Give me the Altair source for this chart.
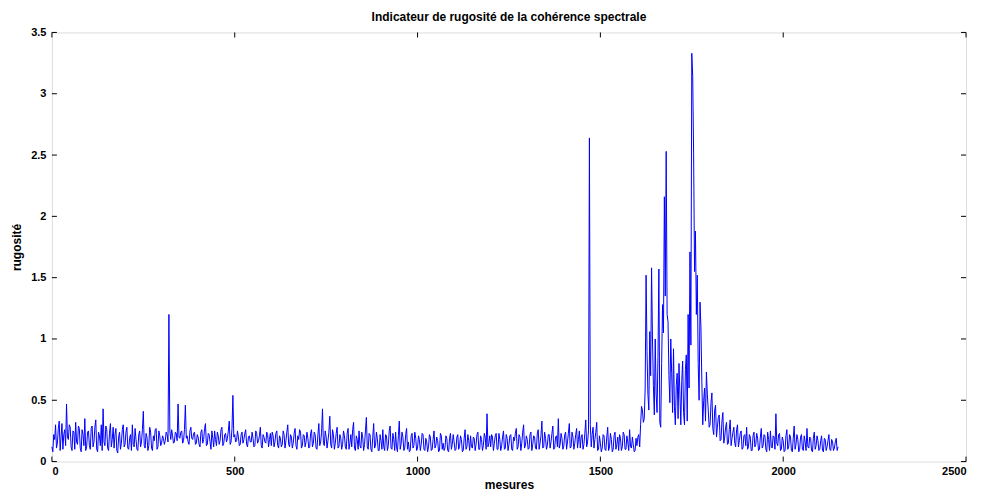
import altair as alt
import pandas as pd

# rugosity values read at x = 0, 5, ..., 2150 (main) and x = 2.5, 7.5, ... (mid)
seg_0000 = [0.12, 0.22, 0.30, 0.15, 0.33, 0.20, 0.10, 0.26, 0.47, 0.18, 0.28, 0.09, 0.24, 0.32, 0.14, 0.27, 0.08, 0.22, 0.35, 0.12]
seg_0100 = [0.25, 0.10, 0.29, 0.16, 0.34, 0.08, 0.21, 0.30, 0.43, 0.13, 0.26, 0.09, 0.31, 0.18, 0.11, 0.27, 0.07, 0.24, 0.15, 0.30]
seg_0200 = [0.14, 0.28, 0.10, 0.22, 0.30, 0.12, 0.18, 0.09, 0.25, 0.16, 0.41, 0.11, 0.20, 0.13, 0.24, 0.09, 0.17, 0.27, 0.12, 0.21]
seg_0300 = [0.15, 0.19, 0.17, 0.22, 1.20, 0.18, 0.21, 0.16, 0.23, 0.47, 0.19, 0.25, 0.17, 0.46, 0.21, 0.14, 0.28, 0.18, 0.24, 0.15]
seg_0400 = [0.20, 0.12, 0.26, 0.18, 0.31, 0.14, 0.22, 0.10, 0.19, 0.25, 0.13, 0.21, 0.17, 0.28, 0.15, 0.23, 0.19, 0.33, 0.16, 0.54]
seg_0500 = [0.22, 0.17, 0.20, 0.14, 0.24, 0.18, 0.26, 0.12, 0.21, 0.16, 0.19, 0.13, 0.23, 0.17, 0.28, 0.11, 0.20, 0.15, 0.22, 0.18]
seg_0600 = [0.13, 0.21, 0.16, 0.25, 0.11, 0.19, 0.14, 0.22, 0.17, 0.30, 0.12, 0.20, 0.15, 0.27, 0.10, 0.18, 0.24, 0.13, 0.21, 0.16]
seg_0700 = [0.19, 0.12, 0.26, 0.15, 0.22, 0.10, 0.31, 0.16, 0.43, 0.13, 0.20, 0.17, 0.37, 0.11, 0.22, 0.15, 0.28, 0.12, 0.19, 0.14]
seg_0800 = [0.21, 0.10, 0.27, 0.15, 0.12, 0.32, 0.09, 0.18, 0.25, 0.11, 0.20, 0.14, 0.36, 0.10, 0.22, 0.08, 0.31, 0.13, 0.19, 0.09]
seg_0900 = [0.17, 0.26, 0.09, 0.21, 0.13, 0.29, 0.10, 0.18, 0.24, 0.08, 0.33, 0.14, 0.20, 0.11, 0.27, 0.16, 0.09, 0.23, 0.13, 0.19]
seg_1000 = [0.11, 0.18, 0.14, 0.22, 0.09, 0.16, 0.12, 0.20, 0.10, 0.25, 0.13, 0.17, 0.09, 0.21, 0.15, 0.11, 0.19, 0.08, 0.23, 0.14]
seg_1100 = [0.16, 0.10, 0.22, 0.13, 0.18, 0.09, 0.26, 0.12, 0.17, 0.21, 0.11, 0.19, 0.14, 0.24, 0.10, 0.18, 0.13, 0.20, 0.39, 0.15]
seg_1200 = [0.12, 0.20, 0.15, 0.23, 0.10, 0.18, 0.13, 0.25, 0.11, 0.19, 0.14, 0.22, 0.09, 0.17, 0.27, 0.12, 0.20, 0.15, 0.30, 0.13]
seg_1300 = [0.18, 0.11, 0.24, 0.14, 0.20, 0.10, 0.26, 0.15, 0.33, 0.12, 0.19, 0.13, 0.22, 0.16, 0.29, 0.11, 0.21, 0.35, 0.14, 0.19]
seg_1400 = [0.13, 0.24, 0.16, 0.31, 0.12, 0.20, 0.15, 0.27, 0.18, 0.11, 0.22, 0.14, 0.34, 0.16, 2.64, 0.12, 0.28, 0.18, 0.32, 0.10]
seg_1500 = [0.15, 0.11, 0.21, 0.09, 0.28, 0.12, 0.18, 0.10, 0.24, 0.14, 0.09, 0.19, 0.12, 0.22, 0.10, 0.16, 0.26, 0.11, 0.14, 0.09]
seg_1600 = [0.13, 0.22, 0.30, 0.42, 0.35, 1.52, 0.55, 1.06, 1.58, 0.62, 1.00, 0.40, 1.57, 0.28, 1.28, 2.16, 2.53, 1.14, 0.48, 0.72]
seg_1700 = [0.92, 0.30, 0.72, 0.80, 0.30, 0.82, 0.30, 0.87, 1.20, 1.71, 3.33, 2.51, 1.88, 1.52, 0.50, 1.10, 0.30, 0.60, 0.73, 0.42]
seg_1800 = [0.30, 0.56, 0.22, 0.46, 0.28, 0.38, 0.18, 0.40, 0.20, 0.32, 0.15, 0.34, 0.19, 0.28, 0.12, 0.30, 0.17, 0.25, 0.11, 0.22]
seg_1900 = [0.28, 0.12, 0.20, 0.09, 0.24, 0.14, 0.19, 0.10, 0.27, 0.13, 0.21, 0.08, 0.18, 0.25, 0.11, 0.20, 0.39, 0.13, 0.23, 0.10]
seg_2000 = [0.17, 0.09, 0.26, 0.12, 0.20, 0.08, 0.29, 0.14, 0.18, 0.10, 0.22, 0.09, 0.16, 0.27, 0.11, 0.19, 0.08, 0.24, 0.13, 0.17]
seg_2100 = [0.10, 0.21, 0.08, 0.18, 0.12, 0.22, 0.09, 0.16, 0.11, 0.19, 0.12]

mid_0000 = [0.08, 0.18, 0.11, 0.27, 0.09, 0.31, 0.22, 0.13, 0.20, 0.30, 0.12, 0.25, 0.10, 0.16, 0.29, 0.11, 0.26, 0.13, 0.09, 0.24]
mid_0100 = [0.13, 0.27, 0.12, 0.28, 0.10, 0.24, 0.13, 0.09, 0.16, 0.29, 0.11, 0.23, 0.12, 0.28, 0.22, 0.09, 0.20, 0.10, 0.26, 0.12]
mid_0200 = [0.24, 0.11, 0.19, 0.09, 0.14, 0.27, 0.10, 0.22, 0.12, 0.26, 0.13, 0.23, 0.09, 0.28, 0.11, 0.21, 0.26, 0.10, 0.25, 0.13]
mid_0300 = [0.21, 0.14, 0.24, 0.16, 0.25, 0.26, 0.15, 0.24, 0.17, 0.20, 0.24, 0.15, 0.26, 0.19, 0.16, 0.25, 0.19, 0.23, 0.14, 0.22]
mid_0400 = [0.14, 0.24, 0.15, 0.27, 0.13, 0.23, 0.16, 0.25, 0.12, 0.18, 0.24, 0.14, 0.26, 0.13, 0.22, 0.16, 0.25, 0.14, 0.27, 0.20]
mid_0500 = [0.16, 0.25, 0.13, 0.22, 0.15, 0.23, 0.14, 0.20, 0.16, 0.24, 0.12, 0.25, 0.15, 0.21, 0.13, 0.22, 0.16, 0.24, 0.12, 0.23]
mid_0600 = [0.24, 0.12, 0.23, 0.13, 0.21, 0.12, 0.25, 0.11, 0.24, 0.14, 0.22, 0.11, 0.23, 0.13, 0.21, 0.26, 0.11, 0.22, 0.12, 0.24]
mid_0700 = [0.11, 0.23, 0.12, 0.24, 0.11, 0.22, 0.13, 0.24, 0.15, 0.25, 0.11, 0.24, 0.14, 0.26, 0.10, 0.23, 0.11, 0.22, 0.10, 0.25]
mid_0800 = [0.12, 0.23, 0.10, 0.22, 0.26, 0.11, 0.21, 0.10, 0.13, 0.24, 0.09, 0.25, 0.12, 0.23, 0.10, 0.20, 0.11, 0.24, 0.09, 0.22]
mid_0900 = [0.10, 0.12, 0.22, 0.09, 0.25, 0.11, 0.23, 0.09, 0.12, 0.21, 0.10, 0.24, 0.09, 0.22, 0.10, 0.08, 0.21, 0.11, 0.24, 0.09]
mid_1000 = [0.21, 0.09, 0.23, 0.10, 0.19, 0.08, 0.22, 0.09, 0.18, 0.11, 0.20, 0.08, 0.23, 0.10, 0.09, 0.21, 0.09, 0.19, 0.10, 0.22]
mid_1100 = [0.09, 0.20, 0.10, 0.21, 0.08, 0.19, 0.10, 0.22, 0.09, 0.12, 0.20, 0.09, 0.22, 0.10, 0.21, 0.09, 0.23, 0.10, 0.12, 0.21]
mid_1200 = [0.22, 0.09, 0.21, 0.10, 0.23, 0.09, 0.20, 0.10, 0.22, 0.09, 0.21, 0.10, 0.20, 0.23, 0.10, 0.22, 0.09, 0.24, 0.11, 0.21]
mid_1300 = [0.10, 0.22, 0.09, 0.21, 0.11, 0.23, 0.10, 0.21, 0.11, 0.24, 0.10, 0.22, 0.11, 0.23, 0.10, 0.20, 0.12, 0.11, 0.23, 0.10]
mid_1400 = [0.22, 0.10, 0.23, 0.11, 0.24, 0.10, 0.22, 0.11, 0.25, 0.20, 0.10, 0.23, 0.12, 0.25, 0.30, 0.22, 0.11, 0.24, 0.09, 0.21]
mid_1500 = [0.08, 0.22, 0.10, 0.20, 0.09, 0.23, 0.08, 0.21, 0.10, 0.20, 0.22, 0.09, 0.24, 0.10, 0.21, 0.09, 0.12, 0.20, 0.08, 0.19]
mid_1600 = [0.20, 0.12, 0.45, 0.32, 0.60, 0.90, 0.42, 0.70, 1.00, 0.38, 0.55, 0.85, 0.32, 0.80, 1.05, 1.35, 1.20, 0.70, 1.00, 0.40]
mid_1700 = [0.45, 0.62, 0.35, 0.55, 0.65, 0.40, 0.75, 0.33, 0.60, 0.95, 3.14, 1.55, 1.20, 0.80, 1.30, 0.65, 0.50, 0.33, 0.55, 0.28]
mid_1800 = [0.48, 0.27, 0.42, 0.20, 0.36, 0.17, 0.33, 0.15, 0.28, 0.14, 0.26, 0.13, 0.24, 0.15, 0.26, 0.12, 0.23, 0.10, 0.21, 0.13]
mid_1900 = [0.10, 0.22, 0.09, 0.21, 0.12, 0.23, 0.09, 0.20, 0.11, 0.22, 0.10, 0.24, 0.09, 0.12, 0.21, 0.10, 0.15, 0.22, 0.09, 0.20]
mid_2000 = [0.08, 0.21, 0.10, 0.22, 0.09, 0.19, 0.10, 0.22, 0.08, 0.20, 0.10, 0.21, 0.09, 0.12, 0.20, 0.09, 0.19, 0.10, 0.21, 0.09]
mid_2100 = [0.17, 0.09, 0.19, 0.09, 0.17, 0.10, 0.18, 0.09, 0.16, 0.09]

x_ticks = [0, 500, 1000, 1500, 2000, 2500]
y_ticks = [0, 0.5, 1, 1.5, 2, 2.5, 3, 3.5]

main = (seg_0000 + seg_0100 + seg_0200 + seg_0300 + seg_0400 + seg_0500 + seg_0600
        + seg_0700 + seg_0800 + seg_0900 + seg_1000 + seg_1100 + seg_1200 + seg_1300
        + seg_1400 + seg_1500 + seg_1600 + seg_1700 + seg_1800 + seg_1900 + seg_2000 + seg_2100)
mids = (mid_0000 + mid_0100 + mid_0200 + mid_0300 + mid_0400 + mid_0500 + mid_0600
        + mid_0700 + mid_0800 + mid_0900 + mid_1000 + mid_1100 + mid_1200 + mid_1300
        + mid_1400 + mid_1500 + mid_1600 + mid_1700 + mid_1800 + mid_1900 + mid_2000 + mid_2100)

xs, ys = [], []
for i, v in enumerate(main):
    xs.append(5 * i)
    ys.append(v)
    if i < len(mids):
        xs.append(5 * i + 2.5)
        ys.append(mids[i])
df = pd.DataFrame({"mesure": xs, "rugosite": ys})

W, H = 916, 430
FONT = "Liberation Sans"

xscale = alt.Scale(domain=[0, 2500], nice=False)
yscale = alt.Scale(domain=[0, 3.5], nice=False)

line = alt.Chart(df).mark_line(color="#0000FF", strokeWidth=1).encode(
    x=alt.X("mesure:Q", scale=xscale,
            axis=alt.Axis(values=x_ticks, title="mesures", ticks=False, domain=False, grid=False,
                          labelExpr="format(datum.value, 'd')",
                          labelFont=FONT, labelFontWeight="bold", labelFontSize=11, labelColor="black",
                          labelPadding=4, titleFont=FONT, titleFontWeight="bold", titleFontSize=12,
                          titleColor="black", titlePadding=3)),
    y=alt.Y("rugosite:Q", scale=yscale,
            axis=alt.Axis(values=y_ticks, title="rugosité", ticks=False, domain=False, grid=False,
                          labelExpr="format(datum.value, '~g')",
                          labelFont=FONT, labelFontWeight="bold", labelFontSize=11, labelColor="black",
                          labelPadding=6, titleFont=FONT, titleFontWeight="bold", titleFontSize=12,
                          titleColor="black", titlePadding=7)),
)

xt = pd.DataFrame({"t": x_ticks})
yt = pd.DataFrame({"t": y_ticks})

xb = alt.Chart(xt).mark_rule(color="black", strokeWidth=1).encode(
    x=alt.X("t:Q", scale=xscale), y=alt.value(H), y2=alt.value(H - 5))
xtp = alt.Chart(xt).mark_rule(color="black", strokeWidth=1).encode(
    x=alt.X("t:Q", scale=xscale), y=alt.value(0), y2=alt.value(5))
yl = alt.Chart(yt).mark_rule(color="black", strokeWidth=1).encode(
    y=alt.Y("t:Q", scale=yscale), x=alt.value(0), x2=alt.value(5))
yr = alt.Chart(yt).mark_rule(color="black", strokeWidth=1).encode(
    y=alt.Y("t:Q", scale=yscale), x=alt.value(W), x2=alt.value(W - 5))

chart = alt.layer(line, xb, xtp, yl, yr).properties(
    width=W, height=H,
    title=alt.Title("Indicateur de rugosité de la cohérence spectrale", font=FONT,
                    fontWeight="bold", fontSize=12, color="black", offset=2),
    autosize=alt.AutoSizeParams(type="none"),
    padding={"left": 44, "top": 24, "right": 14, "bottom": 33},
).configure_view(stroke="black", strokeWidth=1).configure(background="white")

chart.save("out.html", embed_options={"renderer": "svg", "actions": False})
